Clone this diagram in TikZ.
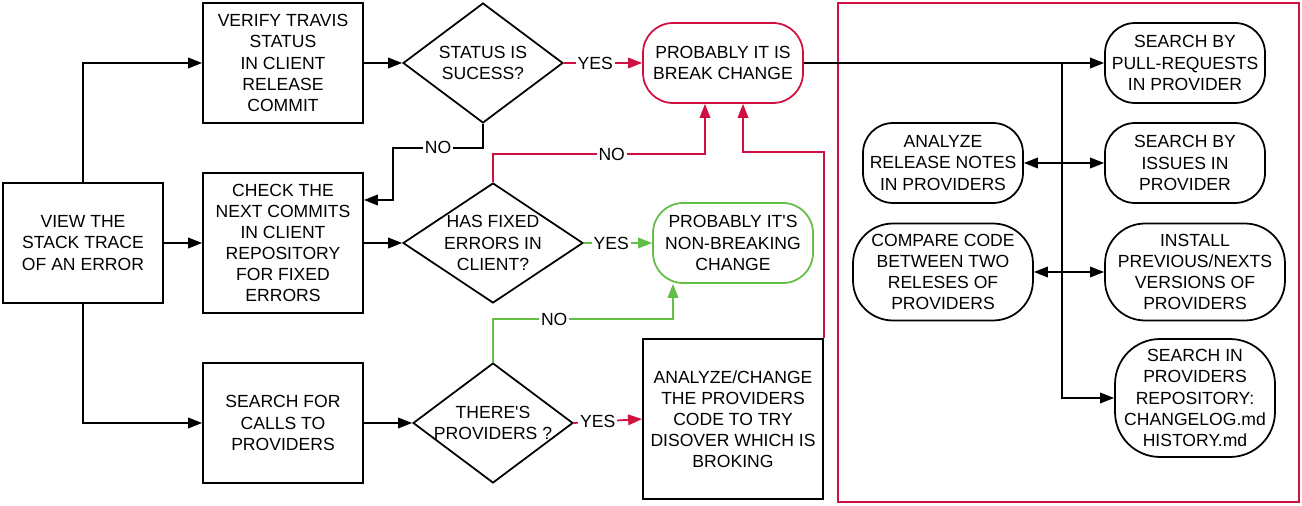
\documentclass[tikz,border=0pt]{standalone}
\usepackage{fontspec}
\setmainfont{Liberation Sans}
\usetikzlibrary{shapes,arrows.meta,positioning,calc}
\usepackage{xcolor}
\definecolor{breakred}{RGB}{208,16,64}
\definecolor{okgreen}{RGB}{98,190,70}

\begin{document}
\begin{tikzpicture}[x=0.02cm, y=-0.02cm, font=\fontsize{10}{12}\selectfont]

  % Define styles for steps and answers
  \tikzstyle{process} = [rectangle, draw, line width=1pt, align=center, minimum width=3.2cm, minimum height=2.4cm, inner sep=2pt]
  \tikzstyle{decision} = [diamond, draw, line width=1pt, align=center, inner sep=-3mm, minimum width=3.2cm, minimum height=2.4cm]
  \tikzstyle{outcome} = [rectangle, draw, rounded corners=0.6cm, line width=1pt, align=center, minimum width=3.2cm, minimum height=1.6cm, inner sep=2pt]
  \tikzstyle{flow} = [-{Triangle[length=8pt,width=6pt]}, line width=1pt]
  \tikzstyle{both} = [{Triangle[length=8pt,width=6pt]}-{Triangle[length=8pt,width=6pt]}, line width=1pt]
  \tikzstyle{answer} = [fill=white, inner sep=1pt]

  \useasboundingbox (0,0) rectangle (1302,506);

  % Steps
  \node[process] (view) at (83,243) {VIEW THE\\STACK TRACE\\OF AN ERROR};
  \node[process] (verify) at (283,63) {VERIFY TRAVIS\\STATUS\\IN CLIENT\\RELEASE\\COMMIT};
  \node[process, minimum height=2.8cm] (check) at (283,243) {CHECK THE\\NEXT COMMITS\\IN CLIENT\\REPOSITORY\\FOR FIXED\\ERRORS};
  \node[process] (calls) at (283,423) {SEARCH FOR\\CALLS TO\\PROVIDERS};

  % Questions
  \node[decision] (status) at (483,63) {STATUS IS\\SUCESS?};
  \node[decision, minimum width=3.6cm] (fixed) at (493,243) {HAS FIXED\\ERRORS IN\\CLIENT?};
  \node[decision] (providers) at (493,423) {THERE\textquotesingle S\\PROVIDERS ?};

  % Results
  \node[outcome, draw=breakred] (breaking) at (723,63) {PROBABLY IT IS\\BREAK CHANGE};
  \node[outcome, draw=okgreen] (nonbreaking) at (733,243) {PROBABLY IT\textquotesingle S\\NON-BREAKING\\CHANGE};
  \node[process, minimum width=3.6cm, minimum height=3.2cm] (analyze) at (733,419) {ANALYZE/CHANGE\\THE PROVIDERS\\CODE TO TRY\\DISOVER WHICH IS\\BROKING};

  % Provider checks
  \draw[breakred, line width=1pt] (838,3) rectangle (1299,502);
  \node[outcome] (pulls) at (1185,63) {SEARCH BY\\PULL-REQUESTS\\IN PROVIDER};
  \node[outcome] (notes) at (943,163) {ANALYZE\\RELEASE NOTES\\IN PROVIDERS};
  \node[outcome] (issues) at (1185,163) {SEARCH BY\\ISSUES IN\\PROVIDER};
  \node[outcome, minimum width=3.6cm, minimum height=1.94cm, rounded corners=0.8cm] (compare) at (943,272) {COMPARE CODE\\BETWEEN TWO\\RELESES OF\\PROVIDERS};
  \node[outcome, minimum width=3.6cm, minimum height=1.94cm, rounded corners=0.8cm] (install) at (1195,272) {INSTALL\\PREVIOUS/NEXTS\\VERSIONS OF\\PROVIDERS};
  \node[outcome, minimum height=2.36cm, rounded corners=0.9cm] (changelog) at (1195,398) {SEARCH IN\\PROVIDERS\\REPOSITORY:\\CHANGELOG.md\\HISTORY.md};
  \coordinate (split) at (1062,63);

  % Main flow
  \draw[flow] (view.north) |- (verify.west);
  \draw[flow] (view.east) -- (check.west);
  \draw[flow] (view.south) |- (calls.west);
  \draw[flow] (verify.east) -- (status.west);
  \draw[flow] (check.east) -- (fixed.west);
  \draw[flow] (calls.east) -- (providers.west);

  % Answers
  \draw[flow] (status.south) -- ++(0,24) -- node[answer]{NO} ++(-90,0) |- ($(check.east)+(0,-43)$);
  \draw[flow, draw=breakred] (status.east) -- node[answer, pos=0.4]{YES} (breaking.west);
  \draw[flow, draw=breakred] (fixed.north) -- ++(0,-28) -| node[answer, pos=0.28]{NO} ($(breaking.south)+(-18,0)$);
  \draw[flow, draw=okgreen] (fixed.east) -- node[answer, pos=0.4]{YES} (nonbreaking.west);
  \draw[flow, draw=okgreen] (providers.north) -- ++(0,-43) -| node[answer, pos=0.17]{NO} ($(nonbreaking.south)+(-60,0)$);
  \draw[flow, draw=breakred] (providers.east) -- node[answer, pos=0.35]{YES} (analyze.west);
  \draw[flow, draw=breakred] (analyze.north east) -- ++(0,-186) -| ($(breaking.south)+(20,0)$);

  % Break change checks
  \draw[flow] (breaking.east) -- (pulls.west);
  \draw[flow] (split) |- (changelog.west);
  \draw[both] (notes.east) -- (issues.west);
  \draw[both] (compare.east) -- (install.west);

\end{tikzpicture}
\end{document}
